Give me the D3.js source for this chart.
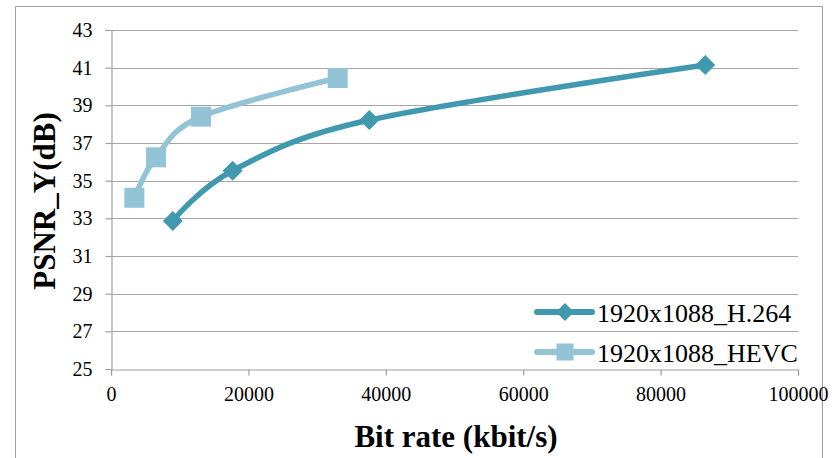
<!DOCTYPE html>
<html>
<head>
<meta charset="utf-8">
<script src="https://cdn.jsdelivr.net/npm/d3@7"></script>
<style>
  html, body { margin: 0; padding: 0; background: #fff; }
  svg { display: block; }
</style>
</head>
<body>
<svg id="chart" width="837" height="458"></svg>
<script>
// Rate–distortion points: bit rate (kbit/s) vs luma PSNR (dB)
const seriesNames = ["1920x1088_H.264", "1920x1088_HEVC"];
const h264Rate = [9000, 17700, 37600, 86500];
const h264Psnr = [32.86, 35.53, 38.22, 41.14];
const hevcRate = [3400, 6550, 13100, 33000];
const hevcPsnr = [34.09, 36.24, 38.40, 40.45];
const xTicks = [0, 20000, 40000, 60000, 80000, 100000];
const yTicks = [25, 27, 29, 31, 33, 35, 37, 39, 41, 43];

const colors = ["#4199b0", "#93c4d6"];
const markers = ["diamond", "square"];
const SERIF = "Liberation Serif";

const svg = d3.select("#chart");
const W = 837, H = 458;
const plot = { left: 111, right: 798, top: 30, bottom: 369 };

// outer chart frame
svg.append("path")
  .attr("d", `M15.5,${H + 2} V6.5 H822.5 V${H + 2}`)
  .attr("fill", "none").attr("stroke", "#a0a0a0").attr("stroke-width", 1);

const x = d3.scaleLinear().domain([0, 100000]).range([plot.left, plot.right]);
const y = d3.scaleLinear().domain([25, 43]).range([plot.bottom, plot.top]);

// horizontal gridlines
svg.append("g").selectAll("line").data(yTicks.filter(v => v !== 25)).join("line")
  .attr("x1", plot.left).attr("x2", plot.right)
  .attr("y1", d => Math.round(y(d)) + 0.5).attr("y2", d => Math.round(y(d)) + 0.5)
  .attr("stroke", "#a6a6a6").attr("stroke-width", 1.2);

// y axis
const yAxis = svg.append("g")
  .attr("transform", `translate(${plot.left + 0.5},0)`)
  .call(d3.axisLeft(y).tickValues(yTicks).tickSize(6).tickPadding(13).tickFormat(d3.format("d")));

// x axis
const xAxis = svg.append("g")
  .attr("transform", `translate(0,${Math.round(y(25)) + 0.5})`)
  .call(d3.axisBottom(x).tickValues(xTicks).tickSize(6).tickPadding(11).tickFormat(d3.format("d")));

[yAxis, xAxis].forEach(a => {
  a.attr("font-family", SERIF).attr("font-size", 20);
  a.selectAll("text").attr("fill", "#000");
  a.select(".domain").attr("stroke", "#a0a0a0").attr("stroke-width", 1.2);
  a.selectAll(".tick line").attr("stroke", "#a0a0a0").attr("stroke-width", 1.2);
});

// axis titles
svg.append("text")
  .attr("transform", "translate(55,201) rotate(-90)")
  .attr("text-anchor", "middle").attr("font-family", SERIF)
  .attr("font-weight", "bold").attr("font-size", 31)
  .text("PSNR_Y(dB)");
svg.append("text")
  .attr("x", 456).attr("y", 447)
  .attr("text-anchor", "middle").attr("font-family", SERIF)
  .attr("font-weight", "bold").attr("font-size", 31)
  .text("Bit rate (kbit/s)");

// series
const series = [
  h264Rate.map((r, i) => ({ rate: r, psnr: h264Psnr[i] })),
  hevcRate.map((r, i) => ({ rate: r, psnr: hevcPsnr[i] }))
];

const line = d3.line()
  .x(d => x(d.rate)).y(d => y(d.psnr))
  .curve(d3.curveCardinal.tension(0));

function drawMarker(g, kind, cx, cy, size, color) {
  if (kind === "diamond") {
    const r = size / 2;
    g.append("path")
      .attr("d", `M${cx},${cy - r} L${cx + r},${cy} L${cx},${cy + r} L${cx - r},${cy} Z`)
      .attr("fill", color);
  } else {
    g.append("rect")
      .attr("x", cx - size / 2).attr("y", cy - size / 2)
      .attr("width", size).attr("height", size)
      .attr("fill", color);
  }
}

series.forEach((pts, si) => {
  const g = svg.append("g");
  g.append("path").datum(pts)
    .attr("d", line)
    .attr("fill", "none").attr("stroke", colors[si])
    .attr("stroke-width", 5.5).attr("stroke-linecap", "round").attr("stroke-linejoin", "round");
  pts.forEach(p => drawMarker(g, markers[si], x(p.rate), y(p.psnr), 20, colors[si]));
});

// legend
const legendRows = [312, 352];
seriesNames.forEach((name, si) => {
  const g = svg.append("g");
  const ly = legendRows[si];
  g.append("line")
    .attr("x1", 537).attr("x2", 592).attr("y1", ly).attr("y2", ly)
    .attr("stroke", colors[si]).attr("stroke-width", 6).attr("stroke-linecap", "round");
  drawMarker(g, markers[si], 565, ly, si === 0 ? 18 : 17, colors[si]);
  g.append("text")
    .attr("x", 597).attr("y", ly + 10)
    .attr("font-family", SERIF).attr("font-size", 26).attr("fill", "#000")
    .text(name);
});
</script>
</body>
</html>
